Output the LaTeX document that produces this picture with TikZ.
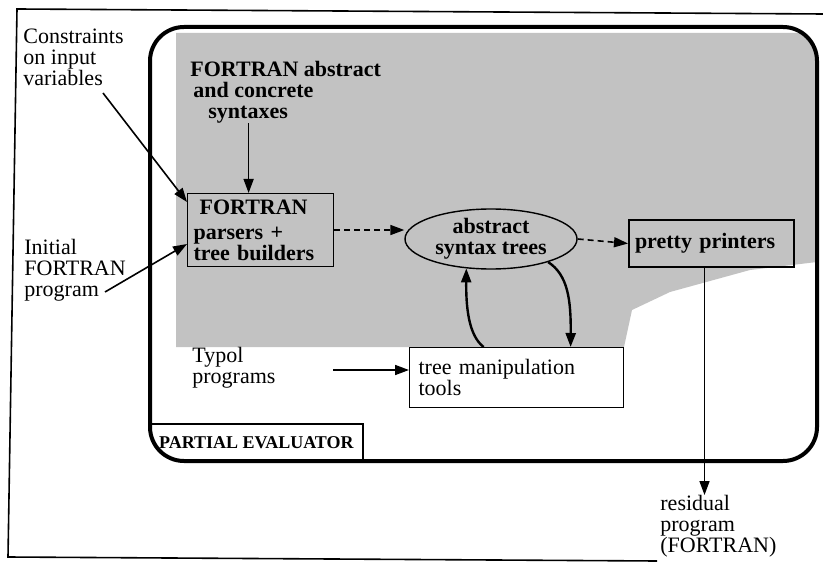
\documentclass[tikz,border=0pt]{standalone}
\usepackage{fontspec}
\setmainfont{Liberation Serif}
\usetikzlibrary{arrows.meta,positioning,shapes.geometric}

\definecolor{stipple}{gray}{0.76}

\begin{document}
\begin{tikzpicture}[
            x=0.5pt, y=-0.5pt,
            every node/.style={font=\fontsize{11}{10.5}\selectfont, inner sep=0pt},
            note/.style={align=left},
            boldnote/.style={align=left, font=\fontsize{11}{10.5}\selectfont\bfseries},
            block/.style={draw, line width=0.6pt, align=left, inner sep=3pt, font=\fontsize{11}{10.5}\selectfont\bfseries},
            link/.style={-{Triangle[length=7pt,width=5pt]}, line width=0.8pt},
            heavylink/.style={-{Triangle[length=7pt,width=5pt]}, line width=1.2pt}
        ]
        \useasboundingbox (0,0) rectangle (823,566);

        % Marco exterior (escaneado, algo torcido)
        \draw[line width=0.8pt] (823,14) -- (17,9) -- (8,557) -- (657,561);

        % Zona sombreada dentro del evaluador
        \begin{scope}
            \clip[rounded corners=17pt] (150,27) rectangle (817,461);
            \fill[stipple] (176,33) -- (817,33) -- (817,262) -- (750,270) -- (670,292)
                -- (632,310) -- (624,347) -- (176,347) -- cycle;
        \end{scope}

        % Marco del evaluador parcial
        \draw[line width=2pt, rounded corners=17pt] (150,27) rectangle (817,461);

        % Pestaña con el nombre
        \node[font=\fontsize{9}{10}\selectfont\bfseries, minimum width=106pt, minimum height=18pt,
            anchor=south west] (tab) at (150,461) {PARTIAL EVALUATOR};
        \draw[line width=1.2pt] (tab.north west) -- (tab.north east) -- (tab.south east);

        % Entradas a la izquierda
        \node[note, anchor=west] (cons) at (23,57) {Constraints\\on input\\variables};
        \node[note, anchor=west] (init) at (24,270) {Initial\\FORTRAN\\program};

        % Sintaxis de FORTRAN, arriba
        \node[boldnote, anchor=west] (syn) at (190,92)
        {FORTRAN abstract\\\hspace*{1.5pt}and concrete\\\hspace*{9pt}syntaxes};

        % Analizadores
        \node[block, text width=67pt, minimum height=36pt, anchor=north west] (parse) at (187,193)
        {\hspace*{3pt}FORTRAN\\[2pt]parsers +\\tree builders};

        % Arboles de sintaxis abstracta
        \node[draw, ellipse, line width=0.7pt, minimum width=86pt, minimum height=30pt,
            align=center, font=\fontsize{11}{10.5}\selectfont\bfseries] (ast) at (491,239)
        {abstract\\syntax trees};

        % Impresoras
        \node[block, line width=1pt, text width=76.5pt, minimum height=23.5pt, anchor=north west]
        (print) at (628,219) {pretty printers};

        % Herramientas de manipulacion, sobre fondo blanco
        \node[block, fill=white, font=\fontsize{11}{10.5}\selectfont, text width=98pt, inner sep=4.5pt,
            minimum height=30pt, anchor=north west] (tools) at (409,347) {tree manipulation\\tools};

        \node[note, anchor=west] (typol) at (192,368) {Typol\\programs};
        \node[note, anchor=north west] (resid) at (660,495) {residual\\program\\(FORTRAN)};

        % Extremos libres de las flechas
        \coordinate (consout) at (103,93);
        \coordinate (initout) at (105,292);
        \coordinate (typout) at (333,370);
        \coordinate (synin) at ([xshift=-6pt]parse.north);
        \coordinate (outx) at ([xshift=-3.5pt]print.south);

        % Flechas
        \draw[link] (consout) -- ([yshift=-4.5pt]parse.north west);
        \draw[link] (initout) -- ([yshift=-7pt]parse.west);
        \draw[link] (synin |- syn.south) -- (synin);
        \draw[link, densely dashed] (parse.east) -- (parse.east -| ast.west);
        \draw[link, densely dashed] (ast.east) -- (print.west);
        \draw[link] (outx) -- (outx |- resid.north);
        \draw[link] (typout) -- (typout -| tools.west);

        % Bucle entre arboles y herramientas
        \draw[heavylink] (ast.-22) .. controls (568,275) and (571,300) .. ([xshift=27pt]tools.north);
        \draw[heavylink] ([xshift=-16.5pt]tools.north) .. controls (468,335) and (466,305) .. (ast.-130);

    \end{tikzpicture}
\end{document}
